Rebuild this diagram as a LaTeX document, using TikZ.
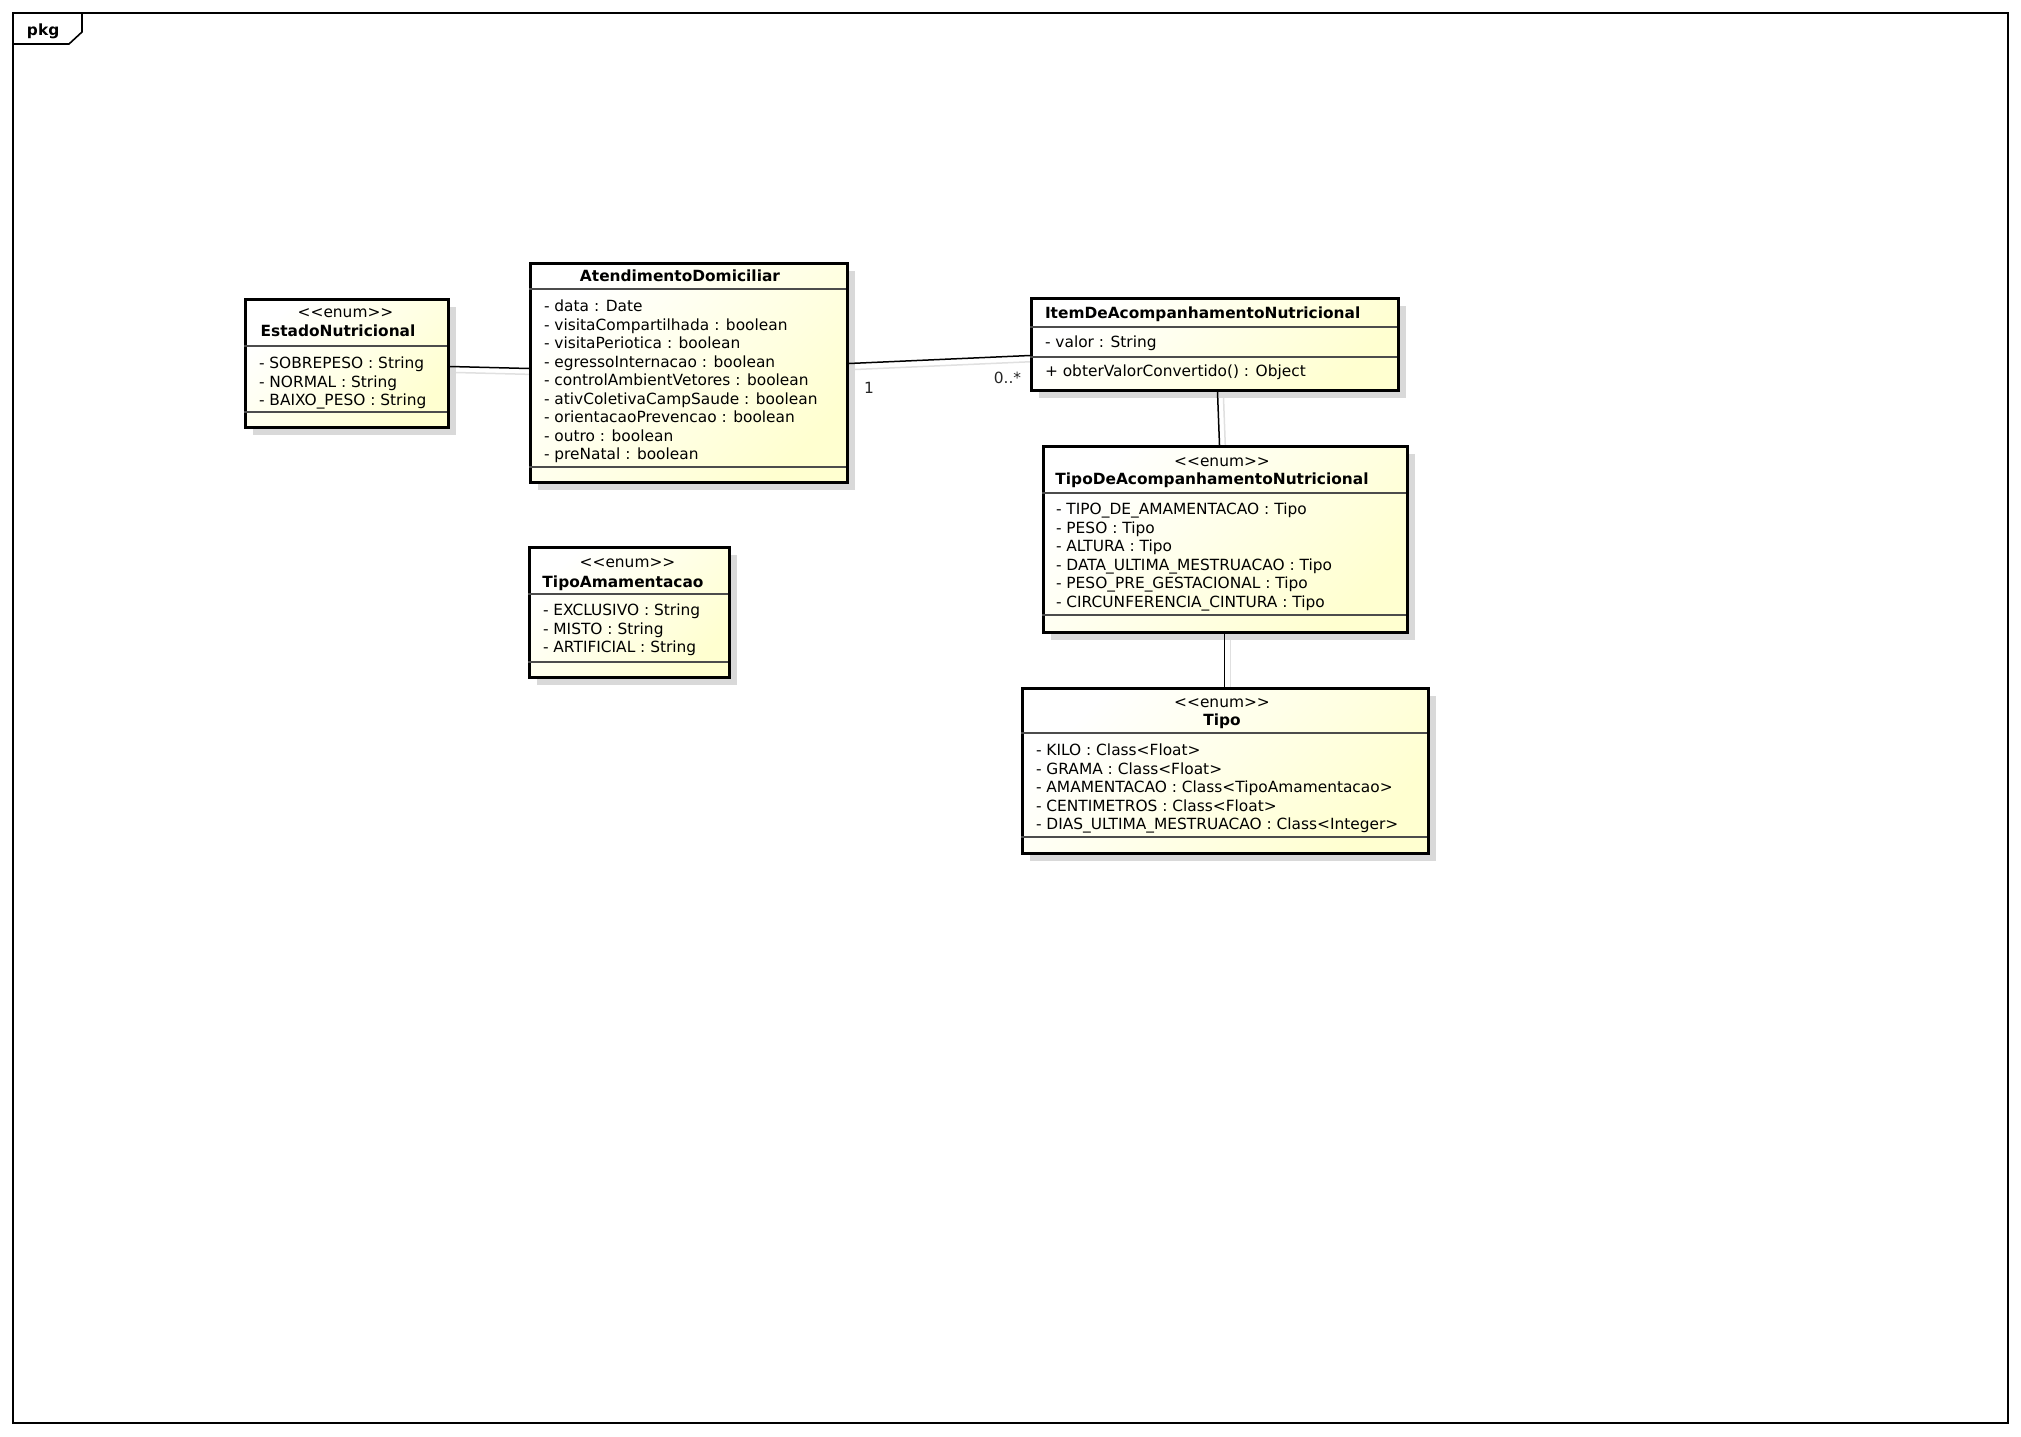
\documentclass[tikz,border=0pt]{standalone}
\usepackage{fontspec}
\setmainfont{DejaVu Sans}[Ligatures=TeXOff]
\usetikzlibrary{shadows}
\definecolor{classfill}{RGB}{255,255,208}
\definecolor{boxshadow}{RGB}{217,217,217}
\definecolor{linkshade}{RGB}{224,224,224}
\newcommand{\umlfont}{\fontsize{15.4pt}{18.5pt}\selectfont}

\begin{document}
\begin{tikzpicture}[x=1pt, y=-1pt,
  classbox/.style={draw=black, line width=3pt, top color=white, bottom color=classfill,
    shading angle=45, general shadow={fill=boxshadow, shadow xshift=7pt, shadow yshift=-7pt},
    anchor=north west, inner sep=0pt},
  compart/.style={draw=black!70, line width=1.2pt},
  txt/.style={inner sep=0pt, outer sep=0pt, font=\umlfont, text=black},
  attr/.style={txt, anchor=base west},
  stereo/.style={txt, anchor=base},
  cname/.style={txt, anchor=base, font=\umlfont\bfseries},
  assoc/.style={draw=black, line width=1.5pt},
  assocshadow/.style={draw=linkshade, line width=1.5pt},
  mult/.style={txt, anchor=base, text=black!85},
  frame/.style={draw=black, line width=1.6pt}
]
\useasboundingbox (0,0) rectangle (2021,1437);
\fill[white] (0,0) rectangle (2021,1437);

% package frame with its name tab
\draw[frame] (13,13) rectangle (2008,1423);
\draw[frame] (13,44) -- (69,44) -- (82,32) -- (82,13);
\node[cname, anchor=base west] (pkg) at (27,36) {pkg};

% class boxes (placed first so the association shadows can be laid under them)
\coordinate (estado-nw) at (244,298);
\coordinate (atend-nw) at (529,262);
\coordinate (item-nw) at (1030,297);
\coordinate (tipode-nw) at (1042,445);
\coordinate (tipo-nw) at (1021,687);
\coordinate (amam-nw) at (528,546);

% invisible outlines used to route the association shadows
\begin{scope}[every node/.style={anchor=north west, inner sep=0pt, outer sep=1.5pt}]
  \node[minimum width=203pt, minimum height=128pt] (estadoG) at (estado-nw) {};
  \node[minimum width=317pt, minimum height=219pt] (atendG) at (atend-nw) {};
  \node[minimum width=367pt, minimum height=92pt] (itemG) at (item-nw) {};
  \node[minimum width=364pt, minimum height=186pt] (tipodeG) at (tipode-nw) {};
  \node[minimum width=406pt, minimum height=165pt] (tipoG) at (tipo-nw) {};
\end{scope}

% light shadows of the associations
\draw[assocshadow] ([xshift=6pt,yshift=-9pt]estadoG.east) -- ([xshift=6pt,yshift=-1.5pt]atendG.west);
\draw[assocshadow] ([xshift=6pt,yshift=3.5pt]atendG.east) -- ([xshift=6pt,yshift=-17pt]itemG.west);
\draw[assocshadow] ([xshift=8.5pt,yshift=-6pt]itemG.south) -- ([yshift=-6pt]tipodeG.north);
\draw[assocshadow] ([xshift=5pt,yshift=-6pt]tipodeG.south) -- ([xshift=5pt,yshift=-6pt]tipoG.north);

% EstadoNutricional
\node[classbox, minimum width=203pt, minimum height=128pt] (estado) at (estado-nw) {};
\draw[compart] (244,346) -- (447,346);
\draw[compart] (244,412) -- (447,412);
\node[stereo] (estado-st) at (345.5,317.5) {<<enum>>};
\node[cname] (estado-nm) at (338,336.5) {EstadoNutricional};
\node[attr] (estado-a1) at (259,368.5) {- SOBREPESO : String};
\node[attr] (estado-a2) at (259,387) {- NORMAL : String};
\node[attr] (estado-a3) at (259,405.5) {- BAIXO\_PESO : String};

% AtendimentoDomiciliar
\node[classbox, minimum width=317pt, minimum height=219pt] (atend) at (atend-nw) {};
\draw[compart] (529,289) -- (846,289);
\draw[compart] (529,467) -- (846,467);
\node[cname] (atend-nm) at (680,281) {AtendimentoDomiciliar};
\node[attr] (atend-a1) at (544,311.5) {- data : Date};
\node[attr] (atend-a2) at (544,330) {- visitaCompartilhada : boolean};
\node[attr] (atend-a3) at (544,348.5) {- visitaPeriotica : boolean};
\node[attr] (atend-a4) at (544,367) {- egressoInternacao : boolean};
\node[attr] (atend-a5) at (544,385.5) {- controlAmbientVetores : boolean};
\node[attr] (atend-a6) at (544,404) {- ativColetivaCampSaude : boolean};
\node[attr] (atend-a7) at (544,422.5) {- orientacaoPrevencao : boolean};
\node[attr] (atend-a8) at (544,441) {- outro : boolean};
\node[attr] (atend-a9) at (544,459.5) {- preNatal : boolean};

% ItemDeAcompanhamentoNutricional
\node[classbox, minimum width=367pt, minimum height=92pt] (item) at (item-nw) {};
\draw[compart] (1030,327) -- (1397,327);
\draw[compart] (1030,357) -- (1397,357);
\node[cname, anchor=base west] (item-nm) at (1045,318.5) {ItemDeAcompanhamentoNutricional};
\node[attr] (item-a1) at (1045,347.5) {- valor : String};
\node[attr] (item-o1) at (1045,376.5) {+ obterValorConvertido() : Object};

% TipoDeAcompanhamentoNutricional
\node[classbox, minimum width=364pt, minimum height=186pt] (tipode) at (tipode-nw) {};
\draw[compart] (1042,493) -- (1406,493);
\draw[compart] (1042,615) -- (1406,615);
\node[stereo] (tipode-st) at (1222,466.5) {<<enum>>};
\node[cname] (tipode-nm) at (1212,484.5) {TipoDeAcompanhamentoNutricional};
\node[attr] (tipode-a1) at (1056,514.5) {- TIPO\_DE\_AMAMENTACAO : Tipo};
\node[attr] (tipode-a2) at (1056,533) {- PESO : Tipo};
\node[attr] (tipode-a3) at (1056,551.5) {- ALTURA : Tipo};
\node[attr] (tipode-a4) at (1056,570) {- DATA\_ULTIMA\_MESTRUACAO : Tipo};
\node[attr] (tipode-a5) at (1056,588.5) {- PESO\_PRE\_GESTACIONAL : Tipo};
\node[attr] (tipode-a6) at (1056,607) {- CIRCUNFERENCIA\_CINTURA : Tipo};

% Tipo
\node[classbox, minimum width=406pt, minimum height=165pt] (tipo) at (tipo-nw) {};
\draw[compart] (1021,733) -- (1427,733);
\draw[compart] (1021,837) -- (1427,837);
\node[stereo] (tipo-st) at (1222,707.5) {<<enum>>};
\node[cname] (tipo-nm) at (1222,725.5) {Tipo};
\node[attr] (tipo-a1) at (1036,755.5) {- KILO : Class<Float>};
\node[attr] (tipo-a2) at (1036,774) {- GRAMA : Class<Float>};
\node[attr] (tipo-a3) at (1036,792.5) {- AMAMENTACAO : Class<TipoAmamentacao>};
\node[attr] (tipo-a4) at (1036,811) {- CENTIMETROS : Class<Float>};
\node[attr] (tipo-a5) at (1036,829.5) {- DIAS\_ULTIMA\_MESTRUACAO : Class<Integer>};

% TipoAmamentacao
\node[classbox, minimum width=200pt, minimum height=130pt] (amam) at (amam-nw) {};
\draw[compart] (528,594) -- (728,594);
\draw[compart] (528,662) -- (728,662);
\node[stereo] (amam-st) at (627.5,567.5) {<<enum>>};
\node[cname] (amam-nm) at (623,587.5) {TipoAmamentacao};
\node[attr] (amam-a1) at (543,615.5) {- EXCLUSIVO : String};
\node[attr] (amam-a2) at (543,634) {- MISTO : String};
\node[attr] (amam-a3) at (543,652.5) {- ARTIFICIAL : String};

% associations
\draw[assoc] ([yshift=-3pt]estado.east) -- ([yshift=4.5pt]atend.west);
\draw[assoc] ([yshift=9.5pt]atend.east) -- ([yshift=-11pt]item.west);
\draw[assoc] ([xshift=2.5pt]item.south) -- ([xshift=-6pt]tipode.north);
\draw[assoc] ([xshift=-1pt]tipode.south) -- ([xshift=-1pt]tipo.north);

% multiplicities
\node[mult] (mult-one) at (869,393) {1};
\node[mult] (mult-many) at (1007.5,383.5) {0..*};
\end{tikzpicture}
\end{document}
